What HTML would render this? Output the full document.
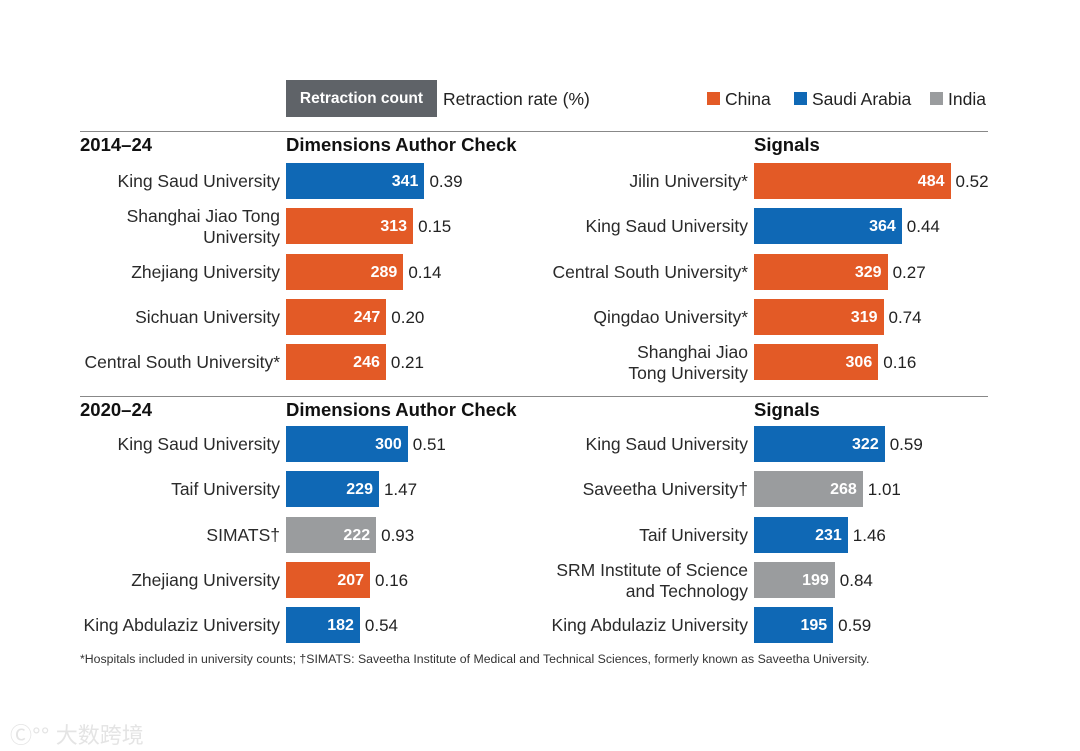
<!DOCTYPE html>
<html><head><meta charset="utf-8"><style>
body{margin:0;width:1080px;height:751px;background:#fff;position:relative;overflow:hidden;font-family:"Liberation Sans",sans-serif;color:#222}
.a{position:absolute;white-space:nowrap}
.t{font-size:18.5px;font-weight:bold;color:#111}
.lab{font-size:17.5px;text-align:right;line-height:21px;color:#2a2a2a}
.bar{position:absolute;height:36px}
.val{font-size:16px;font-weight:bold;color:#fff;position:absolute;right:6px;top:10px;line-height:18px}
.rate{font-size:17px;color:#222}
.rule{position:absolute;height:1px;background:#888}
</style></head><body>
<div class="a" style="left:286px;top:80px;width:151px;height:37px;background:#5f6368;color:#fff;font-weight:bold;font-size:15.5px;line-height:38px;text-align:center">Retraction count</div>
<div class="a" style="left:443px;top:89px;font-size:17.5px">Retraction rate (%)</div>
<div class="a" style="left:707px;top:89px;font-size:17.5px"><span style="display:inline-block;width:13px;height:13px;background:#e35a26;margin-right:5px"></span>China</div>
<div class="a" style="left:794px;top:89px;font-size:17.5px"><span style="display:inline-block;width:13px;height:13px;background:#0f68b5;margin-right:5px"></span>Saudi Arabia</div>
<div class="a" style="left:930px;top:89px;font-size:17.5px"><span style="display:inline-block;width:13px;height:13px;background:#9a9c9e;margin-right:5px"></span>India</div>
<div class="rule" style="left:80px;width:908px;top:131px"></div>
<div class="rule" style="left:80px;width:908px;top:396px"></div>
<div class="a t" style="left:80px;top:134px">2014–24</div>
<div class="a t" style="left:286px;top:134px">Dimensions Author Check</div>
<div class="a t" style="left:754px;top:134px">Signals</div>
<div class="a t" style="left:80px;top:399px">2020–24</div>
<div class="a t" style="left:286px;top:399px">Dimensions Author Check</div>
<div class="a t" style="left:754px;top:399px">Signals</div>
<div class="a" style="left:80px;top:652px;font-size:12.3px;color:#333">*Hospitals included in university counts; †SIMATS: Saveetha Institute of Medical and Technical Sciences, formerly known as Saveetha University.</div>
<div class="a" style="left:10px;top:718px;font-size:22px;color:#e4e4e4;font-family:'Liberation Sans','Noto Sans CJK SC',sans-serif">Ⓒ°° 大数跨境</div>
<div id="root"></div>
<script>
const names1=["King Saud University","Shanghai Jiao Tong<br>University","Zhejiang University","Sichuan University","Central South University*"];
const counts1=[341,313,289,247,246];const rates1=["0.39","0.15","0.14","0.20","0.21"];const ctry1=["s","c","c","c","c"];
const names2=["Jilin University*","King Saud University","Central South University*","Qingdao University*","Shanghai Jiao<br>Tong University"];
const counts2=[484,364,329,319,306];const rates2=["0.52","0.44","0.27","0.74","0.16"];const ctry2=["c","s","c","c","c"];
const names3=["King Saud University","Taif University","SIMATS†","Zhejiang University","King Abdulaziz University"];
const counts3=[300,229,222,207,182];const rates3=["0.51","1.47","0.93","0.16","0.54"];const ctry3=["s","s","i","c","s"];
const names4=["King Saud University","Saveetha University†","Taif University","SRM Institute of Science<br>and Technology","King Abdulaziz University"];
const counts4=[322,268,231,199,195];const rates4=["0.59","1.01","1.46","0.84","0.59"];const ctry4=["s","i","s","i","s"];
const col={c:"#e35a26",s:"#0f68b5",i:"#9a9c9e"};
const K=0.406;
const root=document.getElementById('root');
function panel(names,counts,rates,ctry,x0,y0,tag){
 names.forEach((n,i)=>{
  const cy=y0+i*45.3;
  const l=document.createElement('div');l.className='a lab';
  
  
  l.style.right=(1080-x0+6)+'px';const two=n.includes('<br>');l.style.top=(cy-(two?20:10))+'px';l.innerHTML=n;root.appendChild(l);
  const w=counts[i]*K;
  const b=document.createElement('div');b.className='bar';
  
  
  b.style.left=x0+'px';b.style.top=(cy-18)+'px';b.style.width=w+'px';b.style.background=col[ctry[i]];
  b.innerHTML='<span class="val">'+counts[i]+'</span>';root.appendChild(b);
  const r=document.createElement('div');r.className='a rate';
  
  
  r.style.left=(x0+w+5)+'px';r.style.top=(cy-9)+'px';r.textContent=rates[i];root.appendChild(r);
 });
}
panel(names1,counts1,rates1,ctry1,286,181,'dac2014');
panel(names2,counts2,rates2,ctry2,754,181,'sig2014');
panel(names3,counts3,rates3,ctry3,286,444,'dac2020');
panel(names4,counts4,rates4,ctry4,754,444,'sig2020');
</script>
</body></html>
